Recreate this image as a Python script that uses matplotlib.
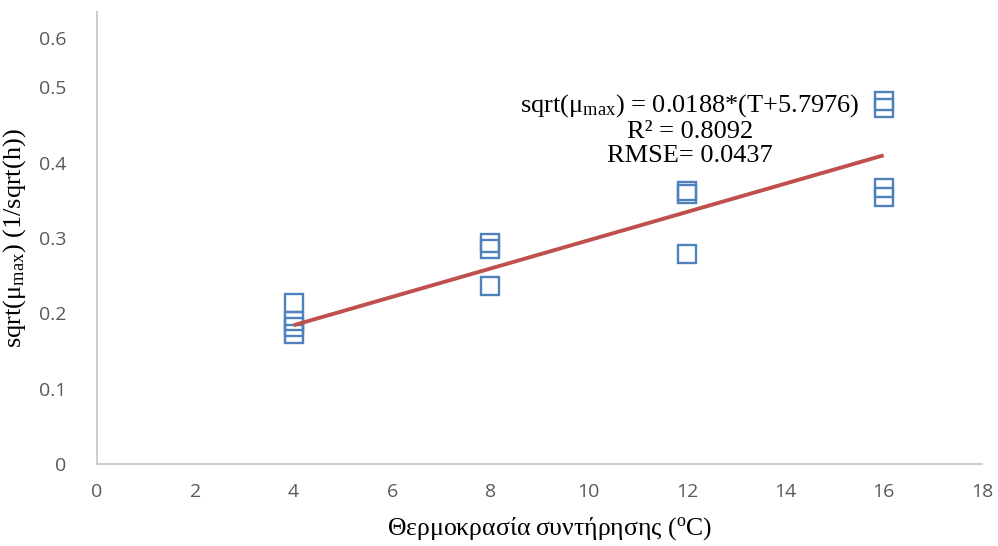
import matplotlib
matplotlib.use("Agg")
import matplotlib.pyplot as plt
import numpy as np

# Storage temperature (°C) and sqrt(mu_max) observations
temps = [4, 4, 4, 4, 8, 8, 8, 12, 12, 12, 16, 16, 16, 16]
sqrt_mu = [0.214, 0.190, 0.182, 0.173, 0.293, 0.285, 0.236,
           0.362, 0.358, 0.279, 0.482, 0.473, 0.367, 0.354]

# Ratkowsky-type fit: sqrt(mu) = b*(T - Tmin)
fit_b = 0.0188
fit_shift = 5.7976
fit_range = [4, 16]

x_ticks = [0, 2, 4, 6, 8, 10, 12, 14, 16, 18]
y_ticks = [0, 0.1, 0.2, 0.3, 0.4, 0.5, 0.565]
y_tick_labels = ["0", "0.1", "0.2", "0.3", "0.4", "0.5", "0.6"]

fig = plt.figure(figsize=(9.98, 5.46), dpi=100)
ax = fig.add_axes([97 / 998, 82 / 546, 885 / 998, 452 / 546])

ax.plot(temps, sqrt_mu, linestyle="none", marker="s", markersize=13,
        markerfacecolor="none", markeredgecolor="#4f81bd",
        markeredgewidth=1.7, zorder=3)

t_line = np.array(fit_range, dtype=float)
ax.plot(t_line, fit_b * (t_line + fit_shift), color="#c0504d",
        linewidth=2.8, solid_capstyle="butt", zorder=4)

ax.set_xlim(0, 18)
ax.set_ylim(0, 0.6)
ax.set_xticks(x_ticks)
ax.set_xticklabels([str(t) for t in x_ticks])
ax.set_yticks(y_ticks)
ax.set_yticklabels(y_tick_labels)

for side in ("top", "right"):
    ax.spines[side].set_visible(False)
for side in ("left", "bottom"):
    ax.spines[side].set_color("#c8c8c8")
    ax.spines[side].set_linewidth(1.3)

ax.tick_params(axis="both", length=0, labelsize=14, colors="#595959")
ax.tick_params(axis="x", pad=14)
ax.tick_params(axis="y", pad=22)
for lbl in ax.get_xticklabels() + ax.get_yticklabels():
    lbl.set_fontfamily("Open Sans")

serif = "Liberation Serif"
ax.set_xlabel("Θερμοκρασία συντήρησης ($\\mathregular{^{o}}$C)",
              fontfamily=serif, fontsize=18.5)
ax.xaxis.set_label_coords(0.5115, -0.113)
ax.set_ylabel("sqrt(μ$\\mathregular{_{max}}$) (1/sqrt(h))",
              fontfamily=serif, fontsize=19, labelpad=8)

ax.text(12.06, 0.444, "sqrt(μ$\\mathregular{_{max}}$) = 0.0188*(T+5.7976)\nR² = 0.8092\nRMSE= 0.0437",
        fontfamily=serif, fontsize=19, ha="center", va="center",
        linespacing=1.1, multialignment="center")

fig.savefig("out.png", dpi=100)
